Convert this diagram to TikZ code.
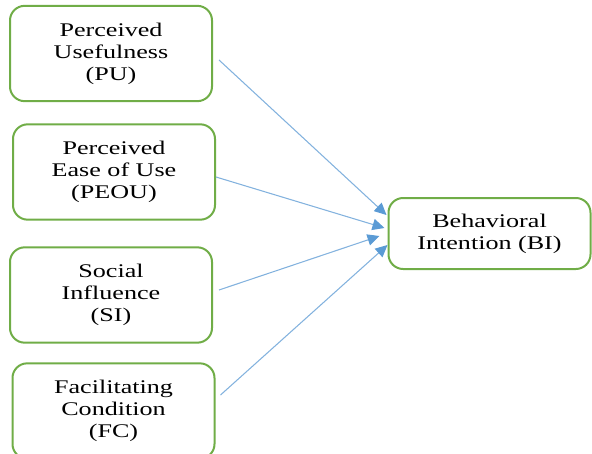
\documentclass[tikz,border=0pt]{standalone}
\usepackage{fontspec}
\setmainfont[FakeStretch=1.35]{Liberation Serif}
\usetikzlibrary{arrows.meta,calc}

\definecolor{boxgreen}{RGB}{112,173,71}
\definecolor{linkblue}{RGB}{131,178,222}
\definecolor{tipblue}{RGB}{91,155,213}

\tikzset{
  construct/.style={draw=boxgreen, line width=1.5pt, rounded corners=11pt,
    align=center, minimum width=151.5pt, minimum height=71.5pt, inner sep=2pt,
    font=\fontsize{14.5}{16.5}\selectfont},
  link/.style={draw=linkblue, line width=0.8pt,
    -{Triangle[length=9pt,width=8.5pt,color=tipblue]}},
}

\begin{document}
\begin{tikzpicture}[x=0.75pt,y=-0.75pt]
\useasboundingbox (0,0) rectangle (592,453);

% Predictors
\node[construct] (pu) at (111,53.5) {Perceived\\Usefulness\\(PU)};
\node[construct] (peou) at (114,172) {Perceived\\Ease of Use\\(PEOU)};
\node[construct] (si) at (111,295) {Social\\Influence\\(SI)};
\node[construct] (fc) at (113.5,411) {Facilitating\\Condition\\(FC)};

% Outcome
\node[construct, minimum height=53.25pt] (bi) at (489.5,233.5) {Behavioral\\Intention (BI)};

% Paths into BI
\draw[link] ($(pu.east)+(6,6.5)$) -- ($(bi.west)+(-1,-18.5)$);
\draw[link] ($(peou.east)+(0,5)$) -- ($(bi.west)+(-3,-5.5)$);
\draw[link] ($(si.east)+(6,-5)$) -- ($(bi.west)+(-8,2.5)$);
\draw[link] ($(fc.east)+(5,-16)$) -- ($(bi.west)+(0,11.5)$);
\end{tikzpicture}
\end{document}
